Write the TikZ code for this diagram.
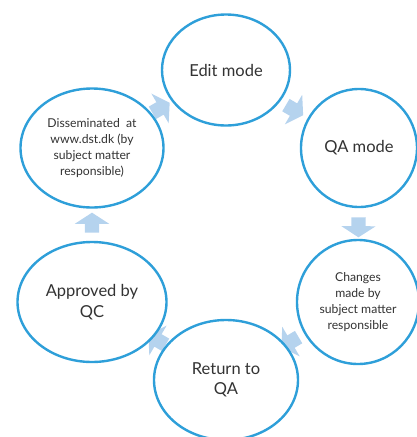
\documentclass[tikz,border=0pt]{standalone}
\usepackage{fontspec}
\setmainfont{Lato}
\usetikzlibrary{shapes.geometric,shapes.arrows,backgrounds}
\definecolor{ringblue}{HTML}{2E9FD9}
\definecolor{arrowblue}{HTML}{B5D3EE}
\definecolor{txtgray}{HTML}{333333}
\tikzset{
  ring/.style={ellipse, draw=ringblue, line width=2.4pt, fill=white, inner sep=0pt, align=center, text=txtgray},
  bigtxt/.style={font=\fontsize{16.5}{20.5}\selectfont},
  smalltxt/.style={font=\fontsize{12.2}{16.3}\selectfont},
  blockarrow/.style={single arrow, fill=arrowblue, draw=none, minimum width=0pt, inner xsep=0pt, inner ysep=7pt,
    single arrow head extend=10pt, single arrow tip angle=114, minimum height=20pt, sloped, allow upside down, midway}
}
\begin{document}
\begin{tikzpicture}[x=1pt,y=-1pt]
\useasboundingbox (0,0) rectangle (416,437);
\node[ring, bigtxt, minimum width=128pt, minimum height=111pt] (edit) at (226,70) {Edit mode};
\node[ring, bigtxt, minimum width=116pt, minimum height=118pt] (qa) at (359,148) {QA mode};
\node[ring, smalltxt, minimum width=122pt, minimum height=124pt] (chg) at (358,302) {Changes\\made by\\subject matter\\responsible};
\node[ring, bigtxt, minimum width=144pt, minimum height=120pt] (ret) at (226,380) {Return to\\QA};
\node[ring, bigtxt, minimum width=149pt, minimum height=120pt] (appr) at (92,302) {Approved by\\QC};
\node[ring, smalltxt, minimum width=143pt, minimum height=119pt] (diss) at (92,148) {Disseminated\ \ at\\www.dst.dk (by\\subject matter\\responsible)};
\begin{pgfonlayer}{background}
\path (edit.center) -- node[blockarrow]{} (qa.center);
\path (qa.center) -- node[blockarrow]{} (chg.center);
\path (chg.center) -- node[blockarrow]{} (ret.center);
\path (ret.center) -- node[blockarrow]{} (appr.center);
\path (appr.center) -- node[blockarrow]{} (diss.center);
\path (diss.center) -- node[blockarrow]{} (edit.center);
\end{pgfonlayer}
\end{tikzpicture}
\end{document}
